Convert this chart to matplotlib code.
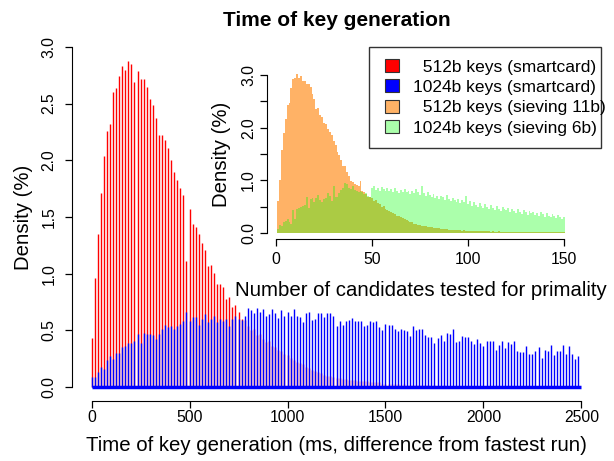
import numpy as np
import matplotlib.pyplot as plt
from matplotlib.patches import Patch, Rectangle

plt.rcParams['font.family'] = ['Liberation Sans', 'DejaVu Sans']

# main plot: key generation time, spikes every 15.625 ms (timer resolution)
step_ms = 15.625
red_512 = [
    0.43, 0.96, 1.35, 1.71, 2.04, 2.26, 2.32, 2.60, 2.64, 2.74,
    2.83, 2.80, 2.88, 2.85, 2.69, 2.79, 2.72, 2.72, 2.65, 2.54,
    2.49, 2.37, 2.22, 2.22, 2.18, 2.11, 2.00, 1.90, 1.83, 1.76,
    1.69, 1.11, 1.57, 1.44, 1.41, 1.35, 1.27, 1.21, 1.07, 1.08,
    1.01, 0.91, 0.91, 0.88, 0.78, 0.79, 0.71, 0.72, 0.66, 0.60,
    0.59, 0.54, 0.50, 0.51, 0.46, 0.47, 0.42, 0.40, 0.41, 0.36,
    0.35, 0.33, 0.32, 0.29, 0.28, 0.26, 0.24, 0.22, 0.21, 0.20,
    0.18, 0.17, 0.15, 0.14, 0.13, 0.12, 0.11, 0.10, 0.10, 0.09,
    0.08, 0.08, 0.07, 0.07, 0.06, 0.06, 0.06, 0.05, 0.05, 0.05,
    0.05, 0.04, 0.04, 0.04, 0.04, 0.03, 0.03, 0.03, 0.03, 0.03,
    0.03, 0.02, 0.03, 0.02, 0.02, 0.02, 0.02, 0.02, 0.02, 0.02,
    0.02, 0.01, 0.02, 0.01, 0.01, 0.02, 0.01, 0.01, 0.01, 0.01,
    0.01, 0.01, 0.01, 0.01, 0.01, 0.01, 0.01, 0.01, 0.01, 0.01,
    0.01, 0.01, 0.01, 0.01, 0.01, 0.01, 0.01, 0.01, 0.01, 0.01,
    0.01, 0.01, 0.01, 0.01, 0.01, 0.01, 0.01, 0.01, 0.01, 0.01,
    0.01, 0.01, 0.01, 0.01, 0.01, 0.01, 0.01, 0.01, 0.01, 0.01,
]
blue_1024 = [
    0.09, 0.09, 0.13, 0.18, 0.16, 0.24, 0.27, 0.25, 0.30, 0.30,
    0.35, 0.36, 0.39, 0.39, 0.41, 0.47, 0.39, 0.48, 0.47, 0.47,
    0.46, 0.42, 0.47, 0.51, 0.55, 0.53, 0.54, 0.51, 0.54, 0.56,
    0.58, 0.66, 0.58, 0.62, 0.62, 0.55, 0.60, 0.64, 0.57, 0.60,
    0.63, 0.57, 0.60, 0.58, 0.60, 0.54, 0.60, 0.63, 0.60, 0.59,
    0.63, 0.70, 0.68, 0.65, 0.70, 0.66, 0.69, 0.63, 0.64, 0.69,
    0.65, 0.61, 0.68, 0.63, 0.66, 0.63, 0.69, 0.63, 0.62, 0.57,
    0.65, 0.66, 0.59, 0.60, 0.65, 0.65, 0.62, 0.65, 0.65, 0.63,
    0.54, 0.58, 0.55, 0.58, 0.59, 0.61, 0.58, 0.58, 0.58, 0.54,
    0.55, 0.58, 0.57, 0.58, 0.53, 0.50, 0.56, 0.55, 0.55, 0.51,
    0.49, 0.51, 0.50, 0.49, 0.45, 0.54, 0.50, 0.51, 0.51, 0.46,
    0.44, 0.44, 0.39, 0.43, 0.46, 0.41, 0.48, 0.47, 0.51, 0.40,
    0.41, 0.45, 0.44, 0.44, 0.41, 0.38, 0.42, 0.39, 0.36, 0.41,
    0.41, 0.41, 0.33, 0.37, 0.41, 0.34, 0.40, 0.38, 0.41, 0.32,
    0.31, 0.31, 0.36, 0.29, 0.29, 0.32, 0.35, 0.26, 0.33, 0.32,
    0.37, 0.28, 0.32, 0.32, 0.37, 0.29, 0.36, 0.29, 0.25, 0.27,
]

# inset: number of candidates tested (1..150)
orange_512 = [
    0.61, 1.01, 1.58, 1.90, 2.16, 2.44, 2.47, 2.75, 2.92, 2.94,
    3.02, 2.94, 2.99, 2.89, 2.89, 2.83, 2.83, 2.77, 2.64, 2.54,
    2.35, 2.37, 2.24, 2.20, 2.09, 2.07, 1.97, 1.91, 1.86, 1.75,
    1.67, 1.54, 1.48, 1.39, 1.28, 1.28, 1.15, 1.09, 0.99, 0.96,
    0.93, 0.91, 0.90, 0.99, 0.80, 0.78, 0.74, 0.68, 0.68, 0.66,
    0.60, 0.62, 0.57, 0.55, 0.50, 0.52, 0.46, 0.44, 0.42, 0.40,
    0.38, 0.36, 0.33, 0.32, 0.30, 0.28, 0.27, 0.24, 0.22, 0.21,
    0.20, 0.18, 0.18, 0.16, 0.15, 0.14, 0.14, 0.13, 0.12, 0.12,
    0.11, 0.10, 0.10, 0.09, 0.09, 0.08, 0.08, 0.07, 0.07, 0.06,
    0.06, 0.06, 0.05, 0.05, 0.05, 0.05, 0.04, 0.05, 0.04, 0.04,
    0.04, 0.04, 0.03, 0.04, 0.03, 0.03, 0.03, 0.03, 0.03, 0.03,
    0.03, 0.02, 0.03, 0.02, 0.02, 0.03, 0.02, 0.02, 0.02, 0.02,
    0.02, 0.02, 0.02, 0.02, 0.02, 0.02, 0.02, 0.02, 0.02, 0.02,
    0.02, 0.02, 0.02, 0.02, 0.02, 0.02, 0.02, 0.02, 0.02, 0.02,
    0.02, 0.02, 0.02, 0.02, 0.02, 0.02, 0.02, 0.02, 0.02, 0.02,
]
green_1024 = [
    0.08, 0.15, 0.13, 0.20, 0.23, 0.27, 0.20, 0.18, 0.44, 0.27,
    0.46, 0.47, 0.49, 0.52, 0.53, 0.68, 0.47, 0.65, 0.66, 0.59,
    0.66, 0.72, 0.62, 0.58, 0.65, 0.66, 0.75, 0.70, 0.61, 0.90,
    0.69, 0.68, 0.76, 0.82, 0.85, 0.95, 0.93, 0.85, 0.84, 0.90,
    0.82, 0.80, 0.78, 0.80, 0.77, 0.74, 0.76, 0.70, 0.68, 0.85,
    0.90, 0.82, 0.86, 0.80, 0.88, 0.84, 0.79, 0.86, 0.80, 0.83,
    0.78, 0.85, 0.80, 0.76, 0.82, 0.78, 0.84, 0.77, 0.80, 0.74,
    0.80, 0.76, 0.83, 0.78, 0.72, 0.89, 0.75, 0.70, 0.78, 0.72,
    0.68, 0.74, 0.66, 0.71, 0.64, 0.70, 0.68, 0.62, 0.72, 0.65,
    0.60, 0.66, 0.62, 0.58, 0.64, 0.56, 0.62, 0.58, 0.70, 0.55,
    0.60, 0.52, 0.58, 0.54, 0.50, 0.57, 0.52, 0.48, 0.55, 0.50,
    0.46, 0.53, 0.48, 0.44, 0.52, 0.46, 0.42, 0.50, 0.45, 0.43,
    0.48, 0.40, 0.46, 0.42, 0.38, 0.45, 0.40, 0.36, 0.44, 0.39,
    0.35, 0.42, 0.37, 0.40, 0.34, 0.38, 0.33, 0.40, 0.36, 0.31,
    0.37, 0.33, 0.30, 0.36, 0.32, 0.28, 0.34, 0.30, 0.27, 0.31,
]

legend_labels = ["  512b keys (smartcard)", "1024b keys (smartcard)",
                 "  512b keys (sieving 11b)", "1024b keys (sieving 6b)"]

red = "#FF0000"
blue = "#0000FF"
orange = "#FFB266"
green = (0.0, 1.0, 0.0, 0.33)

W, H = 614, 461
fig = plt.figure(figsize=(W / 100, H / 100), dpi=100)

def px_axes(left, right, top, bottom):
    return fig.add_axes([left / W, 1 - bottom / H, (right - left) / W, (bottom - top) / H])

# ---- main plot
ax = px_axes(72, 601, 33.4, 400.6)
t = np.arange(len(red_512)) * step_ms
ax.vlines(t, 0, red_512, color=red, lw=1.0)
ax.vlines(t, 0, blue_1024, color=blue, lw=1.0)
ax.hlines(0, t[0], t[-1] + step_ms, color=blue, lw=2.5)

ax.set_xlim(-100, 2600)
ax.set_ylim(-0.12, 3.12)
ax.set_xticks([0, 500, 1000, 1500, 2000, 2500])
yt = np.arange(0, 3.01, 0.5)
ax.set_yticks(yt)
ax.set_yticklabels([f"{v:.1f}" for v in yt], rotation=90, va='center')
for s in ['top', 'right']:
    ax.spines[s].set_visible(False)
ax.spines['left'].set_bounds(0, 3)
ax.spines['bottom'].set_bounds(0, 2500)
ax.tick_params(direction='out', length=5, width=0.9, labelsize=11.3)
ax.tick_params(axis='y', pad=6)
ax.tick_params(axis='x', pad=2)
ax.set_xlabel("Time of key generation (ms, difference from fastest run)", fontsize=14.7, labelpad=8)
ax.set_ylabel("Density (%)", fontsize=14.7, labelpad=6)
ax.set_title("Time of key generation", fontsize=15, fontweight='bold', pad=5)

# ---- inset
ins = px_axes(266.5, 575.5, 68.7, 239.3)
ins.set_facecolor('none')
n = np.arange(1, len(orange_512) + 1)
ins.bar(n, orange_512, width=1.0, color=orange, linewidth=0, antialiased=False)
ins.bar(n, green_1024, width=1.0, color=green, linewidth=0, antialiased=False)
ins.set_xlim(-4.96, 155.96)
ins.set_ylim(-0.12, 3.12)
ins.set_xticks([0, 50, 100, 150])
ins.set_yticks(yt)
ins.set_yticklabels([f"{v:.1f}" if v == int(v) else "" for v in yt], rotation=90, va='center')
for s in ['top', 'right']:
    ins.spines[s].set_visible(False)
ins.spines['left'].set_bounds(0, 3)
ins.spines['bottom'].set_bounds(0, 150)
ins.tick_params(direction='out', length=5, width=0.9, labelsize=11.3)
ins.tick_params(axis='y', pad=2.5)
ins.tick_params(axis='x', pad=4)
ins.set_xlabel("Number of candidates tested for primality", fontsize=14.7, labelpad=10)
ins.set_ylabel("Density (%)", fontsize=14.7, labelpad=7)

# ---- legend (frame drawn separately so the padding can follow the original)
frame = Rectangle((369 / W, 1 - 148 / H), 232 / W, 101 / H, transform=fig.transFigure,
                  facecolor='white', edgecolor='#333333', lw=1.0, zorder=4)
fig.add_artist(frame)
handles = [Patch(facecolor=c, edgecolor='#333333', lw=0.8) for c in [red, blue, orange, green]]
leg = fig.legend(handles, legend_labels, loc='upper left',
                 bbox_to_anchor=(385 / W, 1 - 59 / H), bbox_transform=fig.transFigure,
                 fontsize=12.5, frameon=False, borderaxespad=0, borderpad=0,
                 handlelength=0.78, handleheight=0.78, handletextpad=0.85,
                 labelspacing=0.28)
leg.set_zorder(5)

fig.savefig("out.png", dpi=100)
